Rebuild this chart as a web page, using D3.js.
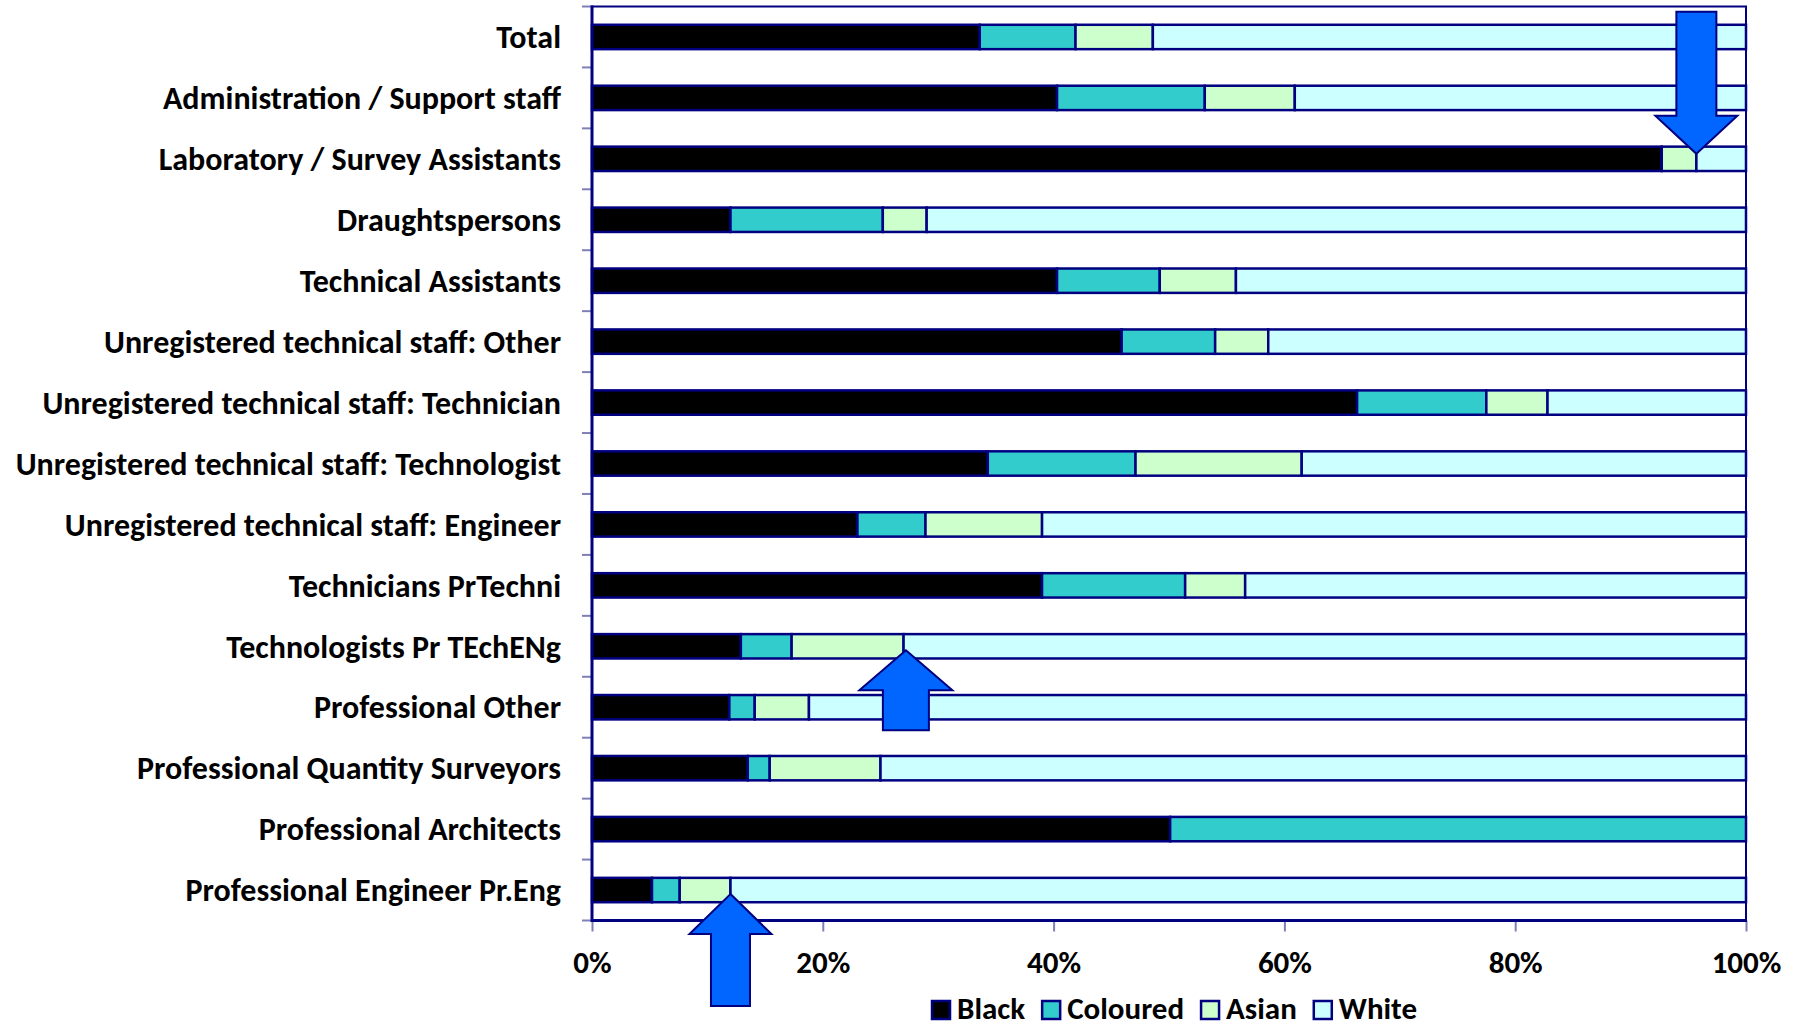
<!DOCTYPE html>
<html>
<head>
<meta charset="utf-8">
<script src="https://cdn.jsdelivr.net/npm/d3@7"></script>
<style>
  html, body { margin: 0; padding: 0; background: #fff; }
  svg text { font-family: Carlito, Lato, "Open Sans", sans-serif; font-weight: bold; fill: #000; }
</style>
</head>
<body>
<svg width="1804" height="1026"></svg>
<script>
// categories, top to bottom
var categories = [
  "Total",
  "Administration / Support staff",
  "Laboratory / Survey Assistants",
  "Draughtspersons",
  "Technical Assistants",
  "Unregistered technical staff: Other",
  "Unregistered technical staff: Technician",
  "Unregistered technical staff: Technologist",
  "Unregistered technical staff: Engineer",
  "Technicians PrTechni",
  "Technologists Pr TEchENg",
  "Professional Other",
  "Professional Quantity Surveyors",
  "Professional Architects",
  "Professional Engineer Pr.Eng"
];

// share of each group, in %
var black    = [33.6, 40.3, 92.7, 12.0, 40.3, 45.9, 66.3, 34.3, 23.0, 39.0, 12.9, 11.9, 13.5, 50.1, 5.2];
var coloured = [ 8.3, 12.8,  0.0, 13.2,  8.9,  8.1, 11.2, 12.8,  5.9, 12.4,  4.4,  2.2,  1.9, 49.9, 2.4];
var asian    = [ 6.7,  7.8,  3.0,  3.8,  6.6,  4.6,  5.3, 14.4, 10.1,  5.2,  9.7,  4.7,  9.6,  0.0, 4.4];
var white    = [51.4, 39.1,  4.3, 71.0, 44.2, 41.4, 17.2, 38.5, 61.0, 43.4, 73.0, 81.2, 75.0,  0.0, 88.0];

var seriesNames  = ["Black", "Coloured", "Asian", "White"];
var seriesColors = ["#000000", "#33CCCC", "#CCFFCC", "#CCFFFF"];
var xTicks = [0, 20, 40, 60, 80, 100];

// arrows drawn on the chart: which bar, at which boundary, pointing where
var arrowCats   = ["Laboratory / Survey Assistants", "Technologists Pr TEchENg", "Professional Engineer Pr.Eng"];
var arrowValues = [95.7, 27.2, 12.0];
var arrowDirs   = ["down", "up", "up"];

var navy = "#000080";

// build table for the stack
var table = categories.map(function(c, i) {
  return { cat: c, Black: black[i], Coloured: coloured[i], Asian: asian[i], White: white[i] };
});
var stacked = d3.stack().keys(seriesNames)(table);

var svg = d3.select("svg");

var plotLeft = 592, plotRight = 1746, plotTop = 6.5, plotBottom = 920.5;

var x = d3.scaleLinear().domain([0, 100]).range([plotLeft, plotRight]);
var y = d3.scaleBand().domain(categories).range([plotTop, plotBottom])
          .paddingInner(0.6).paddingOuter(0.3);
var step = y.step();

// plot area frame
svg.append("rect")
   .attr("x", plotLeft).attr("y", plotTop)
   .attr("width", plotRight - plotLeft).attr("height", plotBottom - plotTop)
   .attr("fill", "none").attr("stroke", navy).attr("stroke-width", 2);

// bars
var color = d3.scaleOrdinal().domain(seriesNames).range(seriesColors);
svg.append("g").selectAll("g")
   .data(stacked).enter().append("g")
   .attr("fill", function(d) { return color(d.key); })
   .selectAll("rect")
   .data(function(d) { return d.filter(function(p) { return p[1] - p[0] > 0; }); })
   .enter().append("rect")
   .attr("x", function(d) { return x(d[0]); })
   .attr("width", function(d) { return x(d[1]) - x(d[0]); })
   .attr("y", function(d) { return y(d.data.cat); })
   .attr("height", y.bandwidth())
   .attr("stroke", navy).attr("stroke-width", 2.5);

// y axis: ticks between categories
var yTickPos = d3.range(categories.length + 1).map(function(i) { return plotTop + i * step; });
svg.append("g").selectAll("line")
   .data(yTickPos).enter().append("line")
   .attr("x1", plotLeft - 10).attr("x2", plotLeft)
   .attr("y1", function(d) { return d; }).attr("y2", function(d) { return d; })
   .attr("stroke", "#7f7fb8").attr("stroke-width", 2);

svg.append("g").selectAll("text")
   .data(categories).enter().append("text")
   .attr("x", 561)
   .attr("y", function(d) { return y(d) + y.bandwidth() / 2; })
   .attr("dy", "0.35em")
   .attr("text-anchor", "end")
   .style("font-size", "32px")
   .text(function(d) { return d; });

// x axis
var xAxis = d3.axisBottom(x).tickValues(xTicks).tickSize(11)
              .tickFormat(function(d) { return d + "%"; });
var gx = svg.append("g").attr("transform", "translate(0," + plotBottom + ")").call(xAxis);
gx.select(".domain").remove();
gx.selectAll(".tick line").attr("stroke", "#7f7fb8").attr("stroke-width", 2);
gx.selectAll(".tick text")
  .attr("y", 52).attr("dy", 0)
  .style("font-size", "31px").style("font-family", null)
  .attr("fill", "#000");

// axis lines on top
svg.append("line").attr("x1", plotLeft).attr("x2", plotLeft)
   .attr("y1", plotTop - 1).attr("y2", plotBottom + 1.5)
   .attr("stroke", navy).attr("stroke-width", 3);
svg.append("line").attr("x1", plotLeft).attr("x2", plotRight + 1)
   .attr("y1", plotBottom).attr("y2", plotBottom)
   .attr("stroke", navy).attr("stroke-width", 3);

// arrows
var arrowStyle = {
  down: { head: 38, dy: -5 },
  up:   { head: 40, dy: 4 }
};
var shaftLens = [104, 40, 72];
var headWs = [82, 93, 82];
var shaftWs = [40, 46, 39];
arrowCats.forEach(function(c, i) {
  var s = arrowStyle[arrowDirs[i]];
  var dir = arrowDirs[i] === "down" ? -1 : 1;   // +1 means body below the tip
  var tx = x(arrowValues[i]);
  var ty = y(c) + y.bandwidth() / 2 + s.dy;
  var hw = headWs[i] / 2, sw = shaftWs[i] / 2;
  var hb = ty + dir * s.head, sb = hb + dir * shaftLens[i];
  var pts = [[tx, ty], [tx + hw, hb], [tx + sw, hb], [tx + sw, sb],
             [tx - sw, sb], [tx - sw, hb], [tx - hw, hb]];
  svg.append("path")
     .attr("d", d3.line()(pts) + "Z")
     .attr("fill", "#0066FF").attr("stroke", navy).attr("stroke-width", 2)
     .attr("stroke-linejoin", "miter");
});

// legend
var legend = svg.append("g");
var lx = 932, ly = 1010;
seriesNames.forEach(function(name, i) {
  legend.append("rect")
     .attr("x", lx).attr("y", ly - 9).attr("width", 18).attr("height", 18)
     .attr("fill", seriesColors[i]).attr("stroke", navy).attr("stroke-width", 2.5);
  var t = legend.append("text")
     .attr("x", lx + 25).attr("y", 1019)
     .style("font-size", "31px")
     .text(name);
  lx = lx + 25 + t.node().getComputedTextLength() + 17;
});
</script>
</body>
</html>
